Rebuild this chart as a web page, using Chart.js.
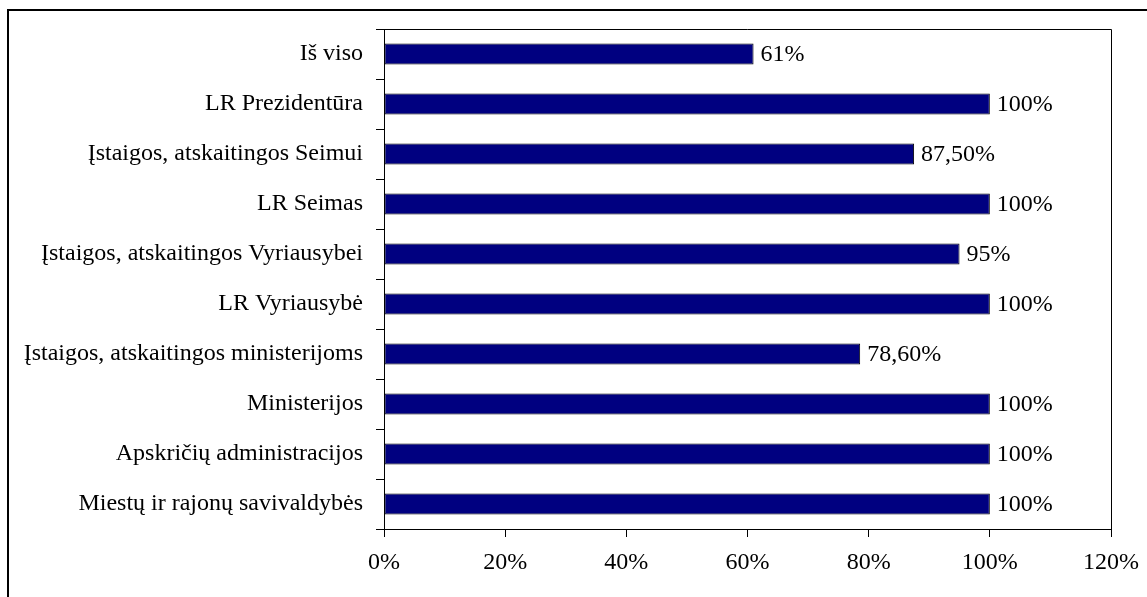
<!DOCTYPE html>
<html>
<head>
<meta charset="utf-8">
<script src="https://cdn.jsdelivr.net/npm/chart.js@4/dist/chart.umd.min.js"></script>
<style>
  html, body { margin: 0; padding: 0; background: #fff; }
  #wrap { width: 1147px; height: 597px; }
</style>
</head>
<body>
<div id="wrap"><canvas id="ch" width="1147" height="597"></canvas></div>
<script>
const categories = [
  "Iš viso",
  "LR Prezidentūra",
  "Įstaigos, atskaitingos Seimui",
  "LR Seimas",
  "Įstaigos, atskaitingos Vyriausybei",
  "LR Vyriausybė",
  "Įstaigos, atskaitingos ministerijoms",
  "Ministerijos",
  "Apskričių administracijos",
  "Miestų ir rajonų savivaldybės",
];
const values = [61, 100, 87.5, 100, 95, 100, 78.6, 100, 100, 100];
const valueLabels = ["61%", "100%", "87,50%", "100%", "95%", "100%", "78,60%", "100%", "100%", "100%"];
const xTicks = [0, 20, 40, 60, 80, 100, 120];

const FONT = "'Liberation Serif', 'Times New Roman', serif";
const FSIZE = 24;

// outer frame + plot box + value labels
const decor = {
  id: "decor",
  afterDraw(chart) {
    const c = chart.ctx;
    const a = chart.chartArea;
    c.save();
    c.strokeStyle = "#000";
    c.lineWidth = 2;
    c.strokeRect(8, 10, 1160, 620);
    c.lineWidth = 1;
    c.beginPath();
    c.moveTo(a.left, a.top + 0.5);
    c.lineTo(a.right + 0.5, a.top + 0.5);
    c.lineTo(a.right + 0.5, a.bottom);
    c.stroke();
    const meta = chart.getDatasetMeta(0);
    c.fillStyle = "#000";
    c.font = FSIZE + "px " + FONT;
    c.textBaseline = "middle";
    c.textAlign = "left";
    meta.data.forEach((bar, i) => {
      c.fillText(valueLabels[i], bar.x + 7, bar.y + 1);
    });
    c.restore();
  },
};

new Chart(document.getElementById("ch").getContext("2d"), {
  type: "bar",
  data: {
    labels: categories,
    datasets: [
      {
        data: values,
        backgroundColor: "#000080",
        borderColor: "#000",
        borderWidth: 1,
        borderSkipped: false,
        barPercentage: 0.42,
        categoryPercentage: 1,
      },
    ],
  },
  options: {
    indexAxis: "y",
    responsive: false,
    animation: false,
    layout: { padding: { top: 29, right: 36, left: 0, bottom: 0 } },
    plugins: { legend: { display: false }, tooltip: { enabled: false } },
    scales: {
      x: {
        min: 0,
        max: 120,
        afterBuildTicks: (s) => { s.ticks = xTicks.map((v) => ({ value: v })); },
        afterFit: (s) => { s.height = 68; s.paddingLeft = 0; s.paddingRight = 0; },
        border: { display: true, color: "#000", width: 1 },
        grid: { drawOnChartArea: false, drawTicks: true, tickLength: 8, color: "#000" },
        ticks: {
          color: "#000",
          font: { family: FONT, size: FSIZE },
          padding: 11,
          maxRotation: 0,
          callback: (v) => v + "%",
        },
      },
      y: {
        afterFit: (s) => { s.width = 384; s.paddingTop = 0; s.paddingBottom = 0; },
        border: { display: true, color: "#000", width: 1 },
        grid: { drawOnChartArea: false, drawTicks: true, tickLength: 8, color: "#000", offset: true },
        ticks: {
          color: "#000",
          font: { family: FONT, size: FSIZE },
          padding: 13,
          autoSkip: false,
        },
      },
    },
  },
  plugins: [decor],
});
</script>
</body>
</html>
